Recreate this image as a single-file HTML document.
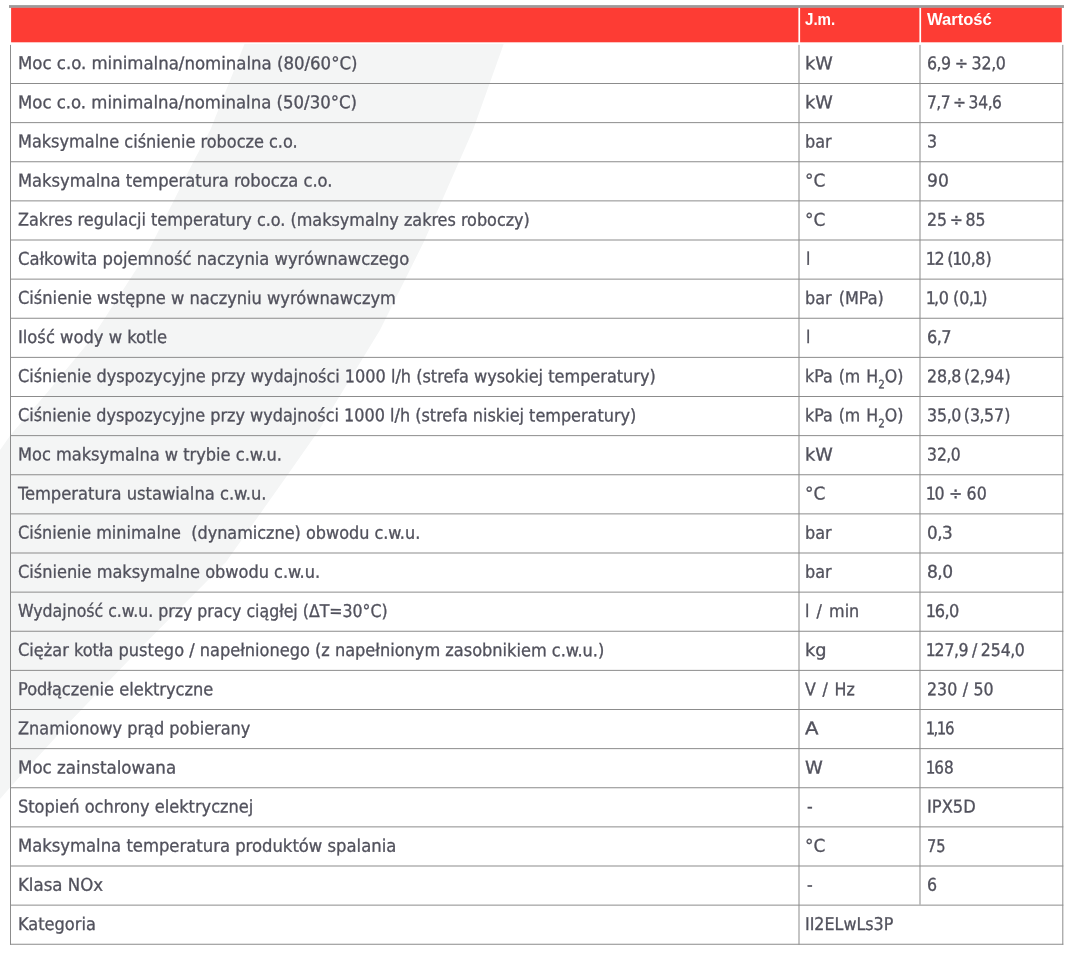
<!DOCTYPE html><html lang="pl"><head><meta charset="utf-8"><title>Dane techniczne</title><style>
html,body{margin:0;padding:0;background:#fff;}
body{width:1071px;height:956px;position:relative;overflow:hidden;font-family:"DejaVu Sans Condensed", "DejaVu Sans", "Liberation Sans", sans-serif;font-size:17.6px;color:#51515c;}
svg.bg{position:absolute;left:0;top:0;}
.t{-webkit-text-stroke:0.3px #51515c;position:absolute;white-space:pre;line-height:22px;height:22px;transform-origin:0 50%;}
.h{-webkit-text-stroke:0;color:#fff;font-weight:bold;font-size:16px;font-family:"Liberation Sans",sans-serif;}
.n1{margin:0 -1.4px 0 -1.2px;}
.cm{margin:0 -0.5px;}
sub{font-size:11.5px;vertical-align:baseline;position:relative;top:5.5px;}
</style></head><body>
<svg class="bg" width="1071" height="956" viewBox="0 0 1071 956">
<polygon points="503.7,43.9 473,130 424,241.5 380,330 319,430 284,480 226,562 141,647.6 70.6,721 11.3,786 0,799 0,450 11.3,434 47,392.7 90.8,339.7 149,249.7 193.5,161.5 210.4,129.7 244.5,43.9" fill="#f4f5f5"/>
<rect x="9" y="5.1" width="1055" height="2.8" fill="#9c9a9a"/>
<rect x="11.1" y="7.8" width="787.30" height="34.5" fill="#fd3c34"/>
<rect x="800.10" y="7.8" width="119.30" height="34.5" fill="#fd3c34"/>
<rect x="921.10" y="7.8" width="140.70" height="34.5" fill="#fd3c34"/>
<rect x="10.0" y="83.000" width="1053.30" height="1" fill="#8c8c8c"/>
<rect x="10.0" y="122.125" width="1053.30" height="1" fill="#8c8c8c"/>
<rect x="10.0" y="161.250" width="1053.30" height="1" fill="#8c8c8c"/>
<rect x="10.0" y="200.375" width="1053.30" height="1" fill="#8c8c8c"/>
<rect x="10.0" y="239.500" width="1053.30" height="1" fill="#8c8c8c"/>
<rect x="10.0" y="278.625" width="1053.30" height="1" fill="#8c8c8c"/>
<rect x="10.0" y="317.750" width="1053.30" height="1" fill="#8c8c8c"/>
<rect x="10.0" y="356.875" width="1053.30" height="1" fill="#8c8c8c"/>
<rect x="10.0" y="396.000" width="1053.30" height="1" fill="#8c8c8c"/>
<rect x="10.0" y="435.125" width="1053.30" height="1" fill="#8c8c8c"/>
<rect x="10.0" y="474.250" width="1053.30" height="1" fill="#8c8c8c"/>
<rect x="10.0" y="513.375" width="1053.30" height="1" fill="#8c8c8c"/>
<rect x="10.0" y="552.500" width="1053.30" height="1" fill="#8c8c8c"/>
<rect x="10.0" y="591.625" width="1053.30" height="1" fill="#8c8c8c"/>
<rect x="10.0" y="630.750" width="1053.30" height="1" fill="#8c8c8c"/>
<rect x="10.0" y="669.875" width="1053.30" height="1" fill="#8c8c8c"/>
<rect x="10.0" y="709.000" width="1053.30" height="1" fill="#8c8c8c"/>
<rect x="10.0" y="748.125" width="1053.30" height="1" fill="#8c8c8c"/>
<rect x="10.0" y="787.250" width="1053.30" height="1" fill="#8c8c8c"/>
<rect x="10.0" y="826.375" width="1053.30" height="1" fill="#8c8c8c"/>
<rect x="10.0" y="865.500" width="1053.30" height="1" fill="#8c8c8c"/>
<rect x="10.0" y="904.625" width="1053.30" height="1" fill="#8c8c8c"/>
<rect x="10.0" y="943.750" width="1053.30" height="1" fill="#8c8c8c"/>
<rect x="10.0" y="44.875" width="1" height="899.875" fill="#8c8c8c"/>
<rect x="798.5" y="44.875" width="1" height="899.875" fill="#8c8c8c"/>
<rect x="919.5" y="44.875" width="1" height="859.750" fill="#8c8c8c"/>
<rect x="1062.3" y="44.875" width="1" height="899.875" fill="#8c8c8c"/>
</svg>
<div class="t h" style="left:805.3px;top:9px;transform:scaleX(0.945)">J.m.</div>
<div class="t h" style="left:926.6px;top:9px;transform:scaleX(1.035)">Wartość</div>
<div class="t" style="left:17.5px;top:52px;transform:translateY(0.06px) rotate(0.03deg) scaleX(1.0464)">Moc c.o. minimalna/nominalna (80/60°C)</div>
<div class="t" style="left:805.4px;top:52px;transform:translateY(0.14px) rotate(0.03deg) scaleX(1.1200)">kW</div>
<div class="t" style="left:926.8px;top:52px;transform:translateY(0.13px) rotate(0.03deg) scaleX(1.0000);word-spacing:-1.500px">6<span class="cm">,</span>9 ÷ 32<span class="cm">,</span>0</div>
<div class="t" style="left:17.5px;top:91px;transform:translateY(0.19px) rotate(0.03deg) scaleX(1.0448)">Moc c.o. minimalna/nominalna (50/30°C)</div>
<div class="t" style="left:805.4px;top:91px;transform:translateY(0.27px) rotate(0.03deg) scaleX(1.1200)">kW</div>
<div class="t" style="left:926.8px;top:91px;transform:translateY(0.26px) rotate(0.03deg) scaleX(0.9764);word-spacing:-2.500px">7<span class="cm">,</span>7 ÷ 34<span class="cm">,</span>6</div>
<div class="t" style="left:17.5px;top:130px;transform:translateY(0.33px) rotate(0.03deg) scaleX(1.0183)">Maksymalne ciśnienie robocze c.o.</div>
<div class="t" style="left:805.4px;top:130px;transform:translateY(0.39px) rotate(0.03deg) scaleX(1.0145)">bar</div>
<div class="t" style="left:926.8px;top:130px;transform:translateY(0.40px) rotate(0.03deg) scaleX(1.0000)">3</div>
<div class="t" style="left:17.5px;top:169px;transform:translateY(0.44px) rotate(0.03deg) scaleX(1.0323)">Maksymalna temperatura robocza c.o.</div>
<div class="t" style="left:805.4px;top:169px;transform:translateY(0.52px) rotate(0.03deg) scaleX(1.0710)">°C</div>
<div class="t" style="left:926.8px;top:169px;transform:translateY(0.52px) rotate(0.03deg) scaleX(1.0833)">90</div>
<div class="t" style="left:17.5px;top:208px;transform:translateY(0.52px) rotate(0.03deg) scaleX(1.0127)">Zakres regulacji temperatury c.o. (maksymalny zakres roboczy)</div>
<div class="t" style="left:805.4px;top:208px;transform:translateY(0.64px) rotate(0.03deg) scaleX(1.0706)">°C</div>
<div class="t" style="left:926.8px;top:208px;transform:translateY(0.63px) rotate(0.03deg) scaleX(0.9932);word-spacing:-2.300px">25 ÷ 85</div>
<div class="t" style="left:17.5px;top:247px;transform:translateY(0.67px) rotate(0.03deg) scaleX(1.0345)">Całkowita pojemność naczynia wyrównawczego</div>
<div class="t" style="left:805.8px;top:247px;transform:translateY(0.77px) rotate(0.03deg) scaleX(1.0000)">l</div>
<div class="t" style="left:926.8px;top:247px;transform:translateY(0.76px) rotate(0.03deg) scaleX(1.0079);word-spacing:-2.500px"><span class="n1">1</span>2 (<span class="n1">1</span>0<span class="cm">,</span>8)</div>
<div class="t" style="left:17.5px;top:286px;transform:translateY(0.80px) rotate(0.03deg) scaleX(1.0264)">Ciśnienie wstępne w naczyniu wyrównawczym</div>
<div class="t" style="left:805.4px;top:286px;transform:translateY(0.88px) rotate(0.03deg) scaleX(1.0138);word-spacing:2.000px">bar (MPa)</div>
<div class="t" style="left:926.8px;top:286px;transform:translateY(0.88px) rotate(0.03deg) scaleX(1.0110);word-spacing:-0.800px"><span class="n1">1</span><span class="cm">,</span>0 (0<span class="cm">,</span><span class="n1">1</span>)</div>
<div class="t" style="left:17.5px;top:325px;transform:translateY(0.99px) rotate(0.03deg) scaleX(1.0332)">Ilość wody w kotle</div>
<div class="t" style="left:805.8px;top:326px;transform:translateY(0.02px) rotate(0.03deg) scaleX(1.0000)">l</div>
<div class="t" style="left:926.8px;top:326px;transform:translateY(0.02px) rotate(0.03deg) scaleX(1.0177)">6<span class="cm">,</span>7</div>
<div class="t" style="left:17.5px;top:364px;transform:translateY(0.98px) rotate(0.03deg) scaleX(1.0176)">Ciśnienie dyspozycyjne przy wydajności 1000 l/h (strefa wysokiej temperatury)</div>
<div class="t" style="left:805.4px;top:365px;transform:translateY(0.12px) rotate(0.03deg) scaleX(1.0000);word-spacing:1.000px">kPa (m H<sub>2</sub>O)</div>
<div class="t" style="left:926.8px;top:365px;transform:translateY(0.13px) rotate(0.03deg) scaleX(1.0000);word-spacing:-2.300px">28<span class="cm">,</span>8 (2<span class="cm">,</span>94)</div>
<div class="t" style="left:17.5px;top:404px;transform:translateY(0.11px) rotate(0.03deg) scaleX(1.0151)">Ciśnienie dyspozycyjne przy wydajności 1000 l/h (strefa niskiej temperatury)</div>
<div class="t" style="left:805.4px;top:404px;transform:translateY(0.25px) rotate(0.03deg) scaleX(1.0000);word-spacing:1.000px">kPa (m H<sub>2</sub>O)</div>
<div class="t" style="left:926.8px;top:404px;transform:translateY(0.25px) rotate(0.03deg) scaleX(1.0000);word-spacing:-2.500px">35<span class="cm">,</span>0 (3<span class="cm">,</span>57)</div>
<div class="t" style="left:17.5px;top:443px;transform:translateY(0.33px) rotate(0.03deg) scaleX(1.0246)">Moc maksymalna w trybie c.w.u.</div>
<div class="t" style="left:805.4px;top:443px;transform:translateY(0.39px) rotate(0.03deg) scaleX(1.1200)">kW</div>
<div class="t" style="left:926.8px;top:443px;transform:translateY(0.39px) rotate(0.03deg) scaleX(0.9853)">32<span class="cm">,</span>0</div>
<div class="t" style="left:17.5px;top:482px;transform:translateY(0.46px) rotate(0.03deg) scaleX(1.0321)">Temperatura ustawialna c.w.u.</div>
<div class="t" style="left:805.4px;top:482px;transform:translateY(0.52px) rotate(0.03deg) scaleX(1.0710)">°C</div>
<div class="t" style="left:926.8px;top:482px;transform:translateY(0.51px) rotate(0.03deg) scaleX(1.0000);word-spacing:-0.650px"><span class="n1">1</span>0 ÷ 60</div>
<div class="t" style="left:17.5px;top:521px;transform:translateY(0.54px) rotate(0.03deg) scaleX(1.0147)">Ciśnienie minimalne  (dynamiczne) obwodu c.w.u.</div>
<div class="t" style="left:805.4px;top:521px;transform:translateY(0.64px) rotate(0.03deg) scaleX(1.0138)">bar</div>
<div class="t" style="left:926.8px;top:521px;transform:translateY(0.64px) rotate(0.03deg) scaleX(1.0603)">0<span class="cm">,</span>3</div>
<div class="t" style="left:17.5px;top:560px;transform:translateY(0.70px) rotate(0.03deg) scaleX(1.0210)">Ciśnienie maksymalne obwodu c.w.u.</div>
<div class="t" style="left:805.4px;top:560px;transform:translateY(0.77px) rotate(0.03deg) scaleX(1.0138)">bar</div>
<div class="t" style="left:926.8px;top:560px;transform:translateY(0.77px) rotate(0.03deg) scaleX(1.0778)">8<span class="cm">,</span>0</div>
<div class="t" style="left:17.5px;top:599px;transform:translateY(0.80px) rotate(0.03deg) scaleX(0.9962)">Wydajność c.w.u. przy pracy ciągłej (ΔT=30°C)</div>
<div class="t" style="left:805.4px;top:599px;transform:translateY(0.89px) rotate(0.03deg) scaleX(1.0110);word-spacing:2.000px">l / min</div>
<div class="t" style="left:926.8px;top:599px;transform:translateY(0.89px) rotate(0.03deg) scaleX(1.0224)"><span class="n1">1</span>6<span class="cm">,</span>0</div>
<div class="t" style="left:17.5px;top:638px;transform:translateY(0.87px) rotate(0.03deg) scaleX(1.0225)">Ciężar kotła pustego / napełnionego (z napełnionym zasobnikiem c.w.u.)</div>
<div class="t" style="left:805.4px;top:639px;transform:translateY(0.02px) rotate(0.03deg) scaleX(1.1200)">kg</div>
<div class="t" style="left:926.8px;top:638px;transform:translateY(1.00px) rotate(0.03deg) scaleX(0.9938);word-spacing:-1.550px"><span class="n1">1</span>27<span class="cm">,</span>9 / 254<span class="cm">,</span>0</div>
<div class="t" style="left:17.5px;top:678px;transform:translateY(0.10px) rotate(0.03deg) scaleX(1.0241)">Podłączenie elektryczne</div>
<div class="t" style="left:805.4px;top:678px;transform:translateY(0.14px) rotate(0.03deg) scaleX(1.0000);word-spacing:1.650px">V / Hz</div>
<div class="t" style="left:926.8px;top:678px;transform:translateY(0.13px) rotate(0.03deg) scaleX(1.0000);word-spacing:0.450px">230 / 50</div>
<div class="t" style="left:17.5px;top:717px;transform:translateY(0.21px) rotate(0.03deg) scaleX(1.0193)">Znamionowy prąd pobierany</div>
<div class="t" style="left:805.4px;top:717px;transform:translateY(0.27px) rotate(0.03deg) scaleX(1.2454)">A</div>
<div class="t" style="left:926.8px;top:717px;transform:translateY(0.27px) rotate(0.03deg) scaleX(0.9468)"><span class="n1">1</span><span class="cm">,</span><span class="n1">1</span>6</div>
<div class="t" style="left:17.5px;top:756px;transform:translateY(0.36px) rotate(0.03deg) scaleX(1.0535)">Moc zainstalowana</div>
<div class="t" style="left:805.4px;top:756px;transform:translateY(0.40px) rotate(0.03deg) scaleX(1.1370)">W</div>
<div class="t" style="left:926.8px;top:756px;transform:translateY(0.39px) rotate(0.03deg) scaleX(0.9632)"><span class="n1">1</span>68</div>
<div class="t" style="left:17.5px;top:795px;transform:translateY(0.46px) rotate(0.03deg) scaleX(1.0222)">Stopień ochrony elektrycznej</div>
<div class="t" style="left:806.6px;top:795px;transform:translateY(0.52px) rotate(0.03deg) scaleX(1.0000)">-</div>
<div class="t" style="left:926.8px;top:795px;transform:translateY(0.51px) rotate(0.03deg) scaleX(1.0296)">IPX5D</div>
<div class="t" style="left:17.5px;top:834px;transform:translateY(0.55px) rotate(0.03deg) scaleX(1.0380)">Maksymalna temperatura produktów spalania</div>
<div class="t" style="left:805.4px;top:834px;transform:translateY(0.64px) rotate(0.03deg) scaleX(1.0706)">°C</div>
<div class="t" style="left:926.8px;top:834px;transform:translateY(0.65px) rotate(0.03deg) scaleX(0.9219)">75</div>
<div class="t" style="left:17.5px;top:873px;transform:translateY(0.75px) rotate(0.03deg) scaleX(1.0482)">Klasa NOx</div>
<div class="t" style="left:806.6px;top:873px;transform:translateY(0.77px) rotate(0.03deg) scaleX(1.0000)">-</div>
<div class="t" style="left:926.8px;top:873px;transform:translateY(0.77px) rotate(0.03deg) scaleX(1.0000)">6</div>
<div class="t" style="left:17.5px;top:912px;transform:translateY(0.88px) rotate(0.03deg) scaleX(1.0238)">Kategoria</div>
<div class="t" style="left:805.4px;top:912px;transform:translateY(0.88px) rotate(0.03deg) scaleX(1.0049)">II2ELwLs3P</div>
</body></html>
